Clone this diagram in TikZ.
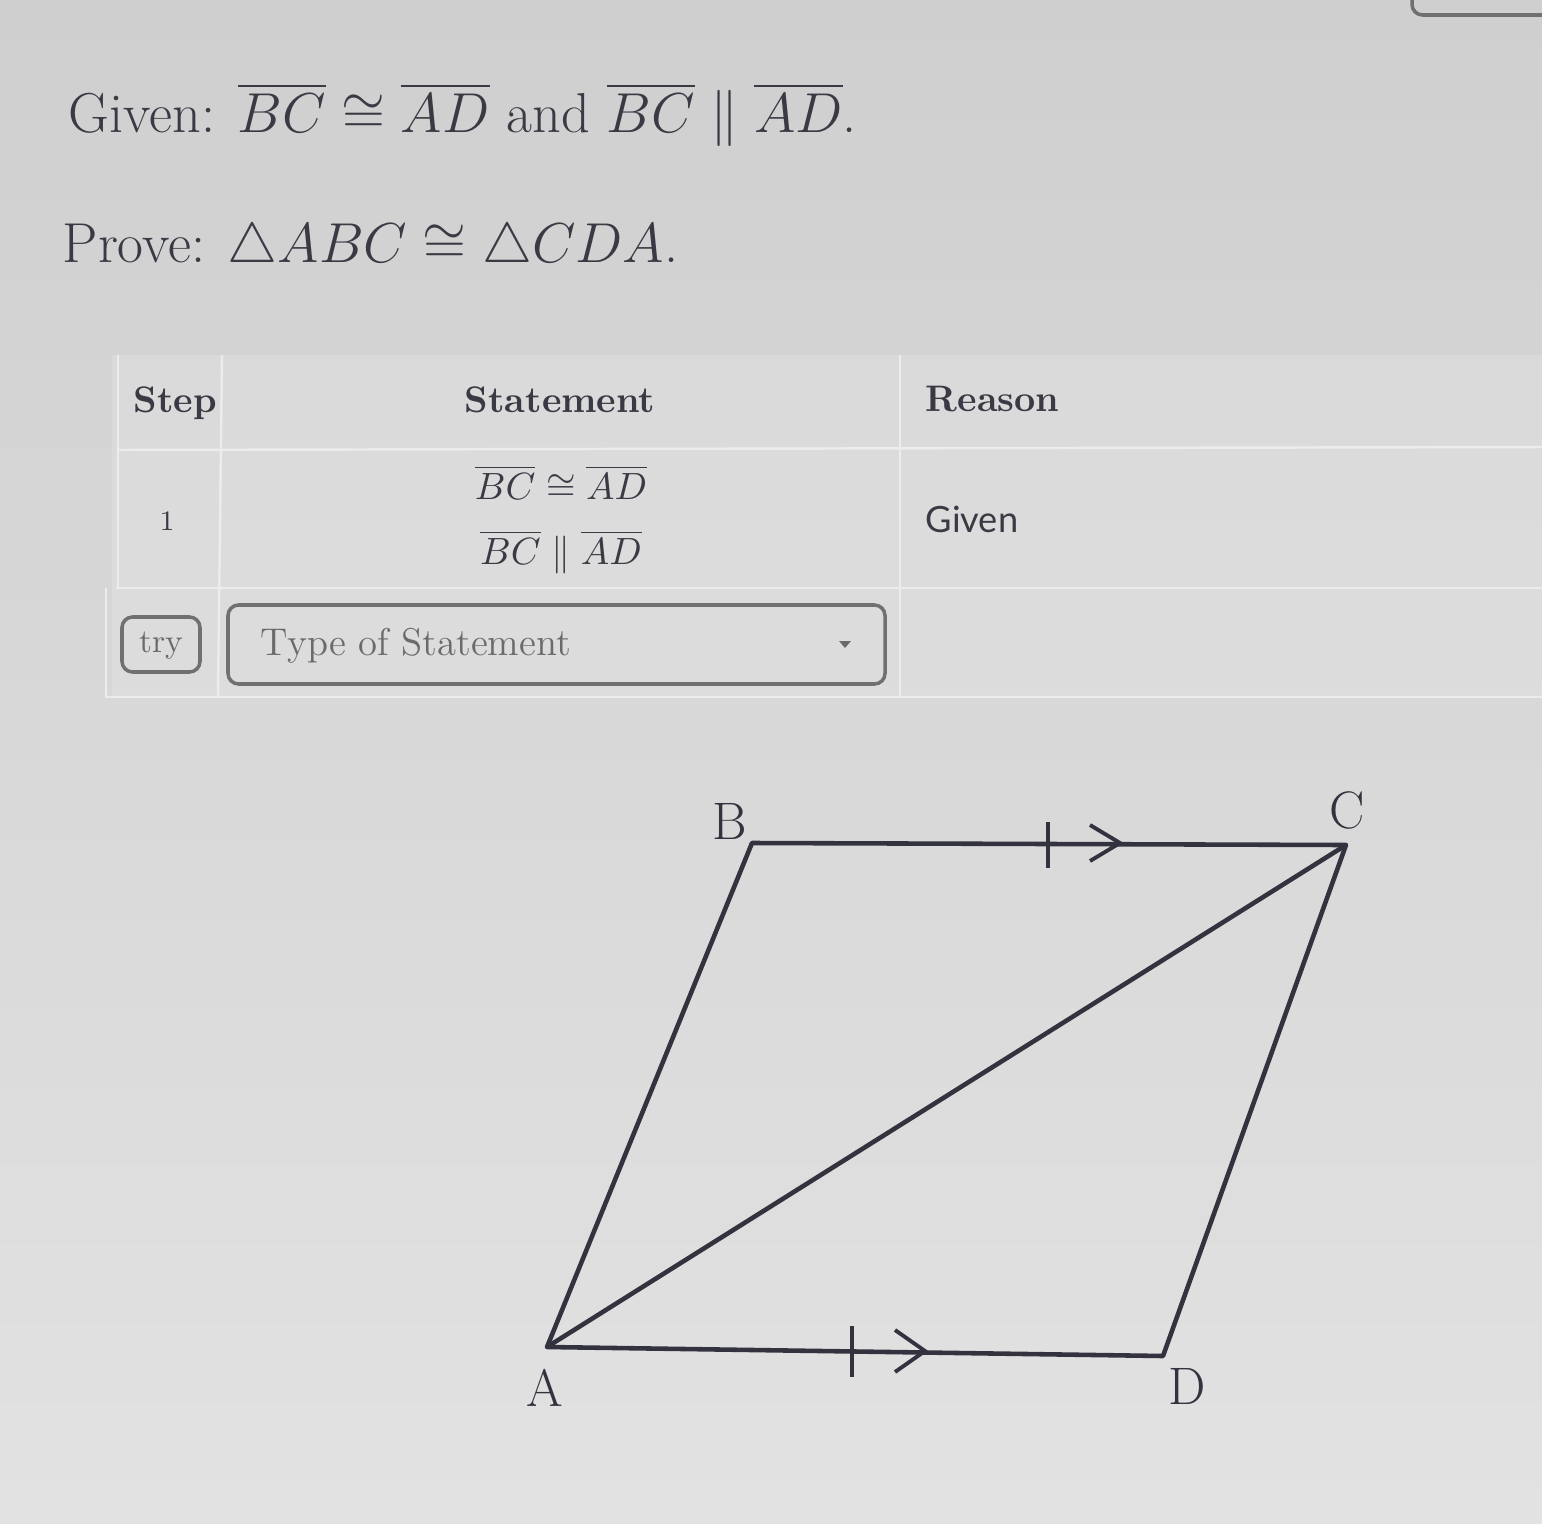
\RequirePackage{fix-cm}
\documentclass[tikz,border=0pt]{standalone}
\usepackage{amssymb}
\usepackage{amsmath}
\usepackage{fontspec}
\newfontfamily\lato{Lato}
\definecolor{pagetop}{HTML}{CFCFCF}
\definecolor{pagebot}{HTML}{E2E2E2}
\definecolor{ink}{HTML}{33333F}
\definecolor{grid}{HTML}{ECECEC}
\definecolor{boxline}{HTML}{707070}
\definecolor{txt}{HTML}{3A3A44}
\definecolor{ghost}{HTML}{6A6A6A}
\tikzset{
  seg/.style={line width=1.3pt, color=ink, line join=round},
  tickmark/.style={line width=1.1pt, color=ink},
  gridline/.style={line width=0.7pt, color=grid},
  btn/.style={draw=boxline, line width=1pt, rounded corners=3pt},
  vlabel/.style={font=\fontsize{15}{18}\selectfont, text=ink, inner sep=0pt},
  head/.style={font=\fontsize{10.5}{12}\selectfont\bfseries, text=txt, inner sep=0pt},
  cell/.style={font=\fontsize{10.8}{12}\selectfont, text=txt, inner sep=0pt},
  bigline/.style={anchor=base west, inner sep=0pt, text=txt, font=\fontsize{16}{19}\selectfont},
}
\begin{document}
\begin{tikzpicture}[x=0.01cm,y=-0.01cm]
\useasboundingbox (0,0) rectangle (1542,1524);
\shade[top color=pagetop, bottom color=pagebot] (0,0) rectangle (1542,1524);
% partial box at top right
\draw[btn] (1412,-20) -- (1412,15) -- (1542,15);
% Given / Prove
\node[bigline] (given) at (68,132)
  {Given: $\overline{BC}\cong\overline{AD}$ and $\overline{BC}\parallel\overline{AD}$.};
\node[bigline] (prove) at (62,262)
  {Prove: $\triangle ABC\cong\triangle CDA$.};
% table
\fill[white, opacity=0.15] (112,355) rectangle (1542,697);
\draw[gridline] (118,450) -- (1542,447);
\draw[gridline] (116,588) -- (1542,588);
\draw[gridline] (105,697) -- (1542,697);
\draw[gridline] (118,355) -- (118,588);
\draw[gridline] (106,588) -- (106,697);
\draw[gridline] (222,355) -- (218,697);
\draw[gridline] (900,355) -- (900,697);
\node[head, anchor=base west] (hstep) at (133,412) {Step};
\node[head, anchor=base] (hstat) at (560,412) {Statement};
\node[head, anchor=base west] (hreas) at (925,411) {Reason};
\node[cell, anchor=base] (s1a) at (561,499) {$\overline{BC}\cong\overline{AD}$};
\node[cell, anchor=base] (s1b) at (561,564) {$\overline{BC}\parallel\overline{AD}$};
\node[anchor=base, inner sep=0pt, text=txt, font=\fontsize{8}{10}\selectfont] (n1) at (167,530) {1};
\node[anchor=base west, inner sep=0pt, text=txt, font=\fontsize{10.3}{12}\selectfont\lato] (r1) at (925,532) {Given};
\draw[btn] (122,617) rectangle (200,672);
\node[anchor=base, inner sep=0pt, text=ghost, font=\fontsize{9.5}{11}\selectfont] (try) at (161,652) {try};
\draw[btn] (228,605) rectangle (885,684);
\node[anchor=base west, inner sep=0pt, text=ghost, font=\fontsize{11}{13}\selectfont] (type) at (260,655) {Type of Statement};
\fill[ghost] (839,641) -- (851,641) -- (845,648) -- cycle;
% figure
\coordinate (B) at (752,843);
\coordinate (C) at (1346,845);
\coordinate (A) at (547,1347);
\coordinate (D) at (1163,1356);
\draw[seg] (A) -- (B) -- (C) -- (D) -- cycle;
\draw[seg] (A) -- (C);
\node[vlabel] (lB) at (730,821) {B};
\node[vlabel] (lC) at (1347,810) {C};
\node[vlabel] (lA) at (545,1388) {A};
\node[vlabel] (lD) at (1187,1386) {D};
\draw[tickmark] (1048,822) -- (1048,868);
\draw[tickmark] (1090,825) -- (1120,843) -- (1090,861);
\draw[tickmark] (852,1326) -- (852,1377);
\draw[tickmark] (895,1330) -- (925,1351) -- (895,1372);
\end{tikzpicture}
\end{document}
